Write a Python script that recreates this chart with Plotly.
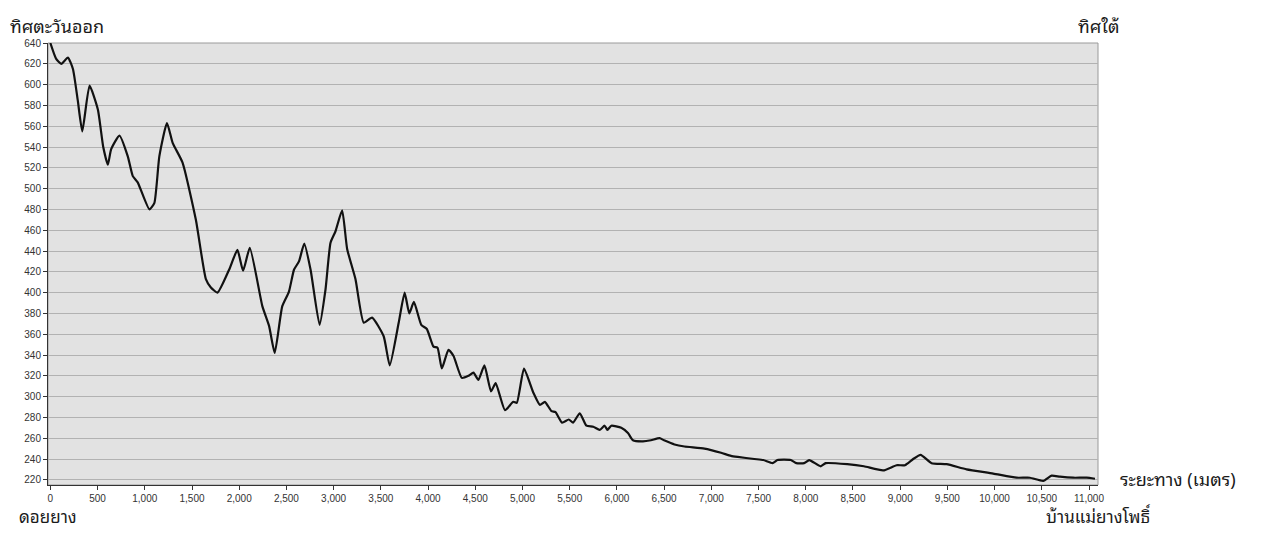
import plotly.graph_objects as go

distance_m = [0, 60, 116, 186, 239, 290, 338, 415, 503, 560, 609, 644, 732, 820, 873, 925,
              1049, 1101, 1154, 1235, 1295, 1400, 1541, 1647, 1700, 1770, 1893, 1981, 2041,
              2112, 2245, 2316, 2376, 2456, 2527, 2580, 2633, 2689, 2756, 2851, 2914, 2967,
              3020, 3090, 3143, 3231, 3319, 3407, 3530, 3594, 3689, 3752, 3801, 3850, 3928,
              3987, 4058, 4100, 4146, 4216, 4270, 4357, 4428, 4481, 4533, 4597, 4667, 4716,
              4815, 4903, 4940, 5016, 5114, 5185, 5237, 5307, 5350, 5419, 5490, 5536, 5607,
              5677, 5750, 5818, 5870, 5900, 5941, 6046, 6117, 6170, 6276, 6360, 6452, 6500,
              6610, 6716, 6927, 7103, 7208, 7279, 7455, 7550, 7648, 7700, 7841, 7900, 7983,
              8036, 8158, 8211, 8440, 8616, 8820, 8962, 9050, 9138, 9216, 9333, 9492, 9703,
              9985, 10233, 10374, 10515, 10604, 10692, 10833, 10975, 11063]
elevation_m = [640, 625, 620, 626, 615, 585, 555, 599, 576, 540, 523, 538, 551, 531, 512, 506,
               480, 486, 531, 563, 544, 525, 470, 413, 405, 400, 422, 441, 421, 443, 387,
               368, 342, 387, 401, 422, 430, 447, 422, 369, 403, 448, 459, 479, 442, 413,
               371, 376, 358, 330, 371, 400, 380, 391, 369, 365, 348, 347, 327, 345, 339,
               318, 320, 323, 316, 330, 305, 313, 287, 295, 294, 327, 304, 292, 295, 286,
               285, 275, 278, 275, 284, 272, 271, 268, 272, 268, 272, 270, 265, 258, 257,
               258, 260, 258, 254, 252, 250, 246, 243, 242, 240, 239, 236, 239, 239, 236,
               236, 239, 233, 236, 235, 233, 229, 234, 234, 240, 244, 236, 235, 230, 226,
               222, 222, 219, 224, 223, 222, 222, 221]

y_ticks = list(range(220, 641, 20))
x_ticks = list(range(0, 11001, 500))
x_tick_labels = [f"{v:,}" for v in x_ticks]

thai_font = "Noto Sans Thai Looped, Loma, Garuda, Tahoma, Noto Sans Thai, sans-serif"
tick_font = dict(family="Liberation Sans, Arial, sans-serif", size=10, color="#333333")

fig = go.Figure()
fig.add_trace(go.Scatter(
    x=distance_m, y=elevation_m, mode="lines",
    line=dict(color="#111111", width=2.2, shape="spline", smoothing=0.5),
    hoverinfo="x+y", showlegend=False,
))

fig.update_layout(
    width=1248, height=524,
    margin=dict(l=40, r=158, t=35, b=47, autoexpand=False),
    paper_bgcolor="white",
    plot_bgcolor="#e2e2e2",
    xaxis=dict(
        range=[-25, 11095], tickvals=x_ticks, ticktext=x_tick_labels, automargin=False,
        ticks="outside", ticklen=4, tickcolor="#333333", tickfont=tick_font,
        showgrid=False, zeroline=False, showline=True, linecolor="#333333", linewidth=1,
    ),
    yaxis=dict(
        range=[215, 640], tickvals=y_ticks, automargin=False,
        ticks="outside", ticklen=4, tickcolor="#333333", tickfont=tick_font,
        showgrid=True, gridcolor="#b2b2b2", gridwidth=1,
        zeroline=False, showline=True, linecolor="#333333", linewidth=1,
    ),
    shapes=[dict(type="rect", xref="paper", yref="paper", x0=0, x1=1, y0=0, y1=1,
                 line=dict(color="#9a9a9a", width=1), layer="below")],
)

annotations = [
    ("ทิศตะวันออก", -0.0381, 1.0760, "left", "top", 18),
    ("ทิศใต้", 1.0, 1.0760, "center", "top", 18),
    ("ระยะทาง (เมตร)", 1.019, 0.016, "left", "middle", 18),
    ("ดอยยาง", 0.0, -0.1045, "center", "bottom", 17),
    ("บ้านแม่ยางโพธิ์", 1.0, -0.1045, "center", "bottom", 17),
]
for text, ax, ay, xanchor, yanchor, size in annotations:
    fig.add_annotation(text=text, x=ax, y=ay, xref="paper", yref="paper",
                       xanchor=xanchor, yanchor=yanchor, showarrow=False,
                       font=dict(family=thai_font, size=size, color="#1a1a1a"))

fig.write_html("out.html")
